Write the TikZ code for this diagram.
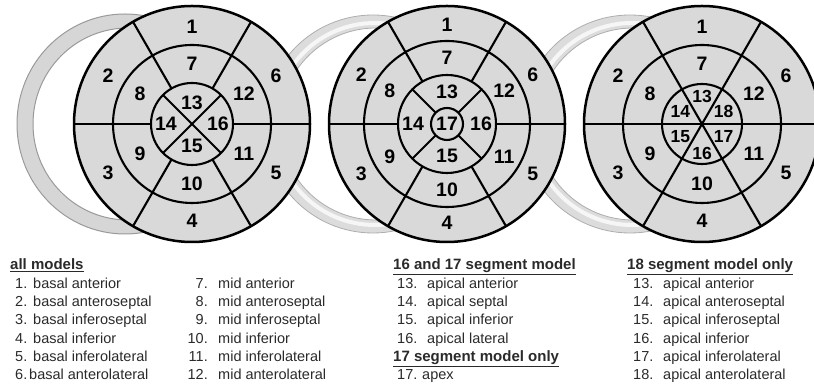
\documentclass[tikz,border=0pt]{standalone}
\usepackage{fontspec}
\setmainfont{Liberation Sans}
\usetikzlibrary{calc}
\definecolor{segfill}{HTML}{D9D9D9}
\definecolor{ringfill}{HTML}{D6D6D6}
\definecolor{ringfillb}{HTML}{DCDCDC}
\definecolor{ringedge}{HTML}{9A9A9A}
\definecolor{txt}{HTML}{2A2A2A}
\begin{document}
\begin{tikzpicture}[x=1pt,y=1pt,
  segline/.style={line width=2.1pt, draw=black},
  outerc/.style={fill=segfill, draw=black, line width=2.5pt},
  ring/.style={fill=ringfill, draw=ringedge, line width=1pt, even odd rule},
  ringb/.style={fill=ringfillb, draw=ringedge!80, line width=0.8pt, even odd rule},
  ringhl/.style={draw=white, line width=4pt, opacity=0.75},
  num/.style={font=\fontsize{19.5}{19.5}\bfseries\selectfont, inner sep=0pt},
  snum/.style={font=\fontsize{17.5}{17.5}\bfseries\selectfont, inner sep=0pt},
  lbl/.style={font=\fontsize{14.5}{15}\selectfont, text=txt, inner sep=0pt, anchor=base west},
  lble/.style={lbl, anchor=base east},
  hd/.style={font=\fontsize{15}{15}\bfseries\selectfont, text=txt, inner sep=0pt, anchor=base west},
]
\useasboundingbox (0,0) rectangle (814,387);
% rings behind the circles
\path[ring] (125,263) ellipse [x radius=108, y radius=110] (128,263) ellipse [x radius=95, y radius=96];
\path[ringb] (373,263) circle[radius=109] (376,263) circle[radius=96];
\draw[ringhl] (375,263) circle[radius=101];
\path[ringb] (630,263) circle[radius=109] (633,263) circle[radius=96];
\draw[ringhl] (632,263) circle[radius=101];
% ---------- circle 1 ----------
\coordinate (c1) at (192,263);
\path[outerc] (c1) circle[radius=118];
\draw[segline] (c1) circle[radius=79] (c1) circle[radius=41];
\foreach \a in {0,60,...,300} \draw[segline] ($(c1)+(\a:41)$) -- ($(c1)+(\a:118)$);
\draw[segline] ($(c1)+(45:41)$) -- ($(c1)+(225:41)$) ($(c1)+(135:41)$) -- ($(c1)+(315:41)$);
\foreach \n/\a in {1/90,2/150,3/210,4/270,5/330,6/30} \node[num] (p1-\n) at ($(c1)+(\a:97)$) {\n};
\foreach \n/\a in {7/90,8/150,9/210,10/270,11/330,12/30} \node[num] (p1-\n) at ($(c1)+(\a:60)$) {\n};
\foreach \n/\a/\r in {13/90/21,14/180/26,15/270/22,16/0/26} \node[num] (p1-\n) at ($(c1)+(\a:\r)$) {\n};
% ---------- circle 2 ----------
\coordinate (c2) at (447,263);
\path[outerc] (c2) circle[radius=118];
\draw[segline] (c2) circle[radius=83] (c2) circle[radius=49] (c2) circle[radius=16];
\foreach \a in {0,60,...,300} \draw[segline] ($(c2)+(\a:49)$) -- ($(c2)+(\a:118)$);
\foreach \a in {45,135,225,315} \draw[segline] ($(c2)+(\a:16)$) -- ($(c2)+(\a:49)$);
\foreach \n/\a in {1/90,2/150,3/210,4/270,5/330,6/30} \node[num] (p2-\n) at ($(c2)+(\a:99)$) {\n};
\foreach \n/\a in {7/90,8/150,9/210,10/270,11/330,12/30} \node[num] (p2-\n) at ($(c2)+(\a:66)$) {\n};
\foreach \n/\a/\r in {13/90/32,14/180/34,15/270/32,16/0/34} \node[num] (p2-\n) at ($(c2)+(\a:\r)$) {\n};
\node[num] (p2-17) at (c2) {17};
% ---------- circle 3 ----------
\coordinate (c3) at (702,263);
\path[outerc] (c3) circle[radius=118];
\draw[segline] (c3) circle[radius=79] (c3) circle[radius=40];
\foreach \a in {0,60,120} \draw[segline] ($(c3)+(\a:118)$) -- ($(c3)+(\a+180:118)$);
\foreach \n/\a in {1/90,2/150,3/210,4/270,5/330,6/30} \node[num] (p3-\n) at ($(c3)+(\a:97)$) {\n};
\foreach \n/\a in {7/90,8/150,9/210,10/270,11/330,12/30} \node[num] (p3-\n) at ($(c3)+(\a:60)$) {\n};
\foreach \n/\a/\r in {13/90/28,14/150/25,15/210/25,16/270/29,17/330/25,18/30/25} \node[snum] (p3-\n) at ($(c3)+(\a:\r)$) {\n};
% ---------- legend ----------
\node[hd] (h1) at (10,117) {\underline{all models}};
\foreach \n/\t/\y in {1/basal anterior/98.7,2/basal anteroseptal/80.3,3/basal inferoseptal/62,4/basal inferior/43.7,5/basal inferolateral/25.3}{
  \node[lbl] (n\n) at (15,\y) {\n.};
  \node[lbl] (t\n) at (33,\y) {\t};
}
\node[lbl] (n6) at (15,7) {6.};
\node[lbl] (t6) at (29,7) {basal anterolateral};
\foreach \n/\t/\y in {7/mid anterior/98.7,8/mid anteroseptal/80.3,9/mid inferoseptal/62,10/mid inferior/43.7,11/mid inferolateral/25.3,12/mid anterolateral/7}{
  \node[lble] (n\n) at (208,\y) {\n.};
  \node[lbl] (t\n) at (218,\y) {\t};
}
\node[hd] (h3) at (393,117) {\underline{16 and 17 segment model}};
\foreach \n/\t/\y in {13/apical anterior/98.7,14/apical septal/80.3,15/apical inferior/62,16/apical lateral/43.7}{
  \node[lbl] (m\n) at (397,\y) {\n.};
  \node[lbl] (s\n) at (427,\y) {\t};
}
\node[hd] (h4) at (393,25.3) {\underline{17 segment model only}};
\node[lbl] (m17) at (397,7) {17.};
\node[lbl] (s17) at (422,7) {apex};
\node[hd] (h5) at (627,117) {\underline{18 segment model only}};
\foreach \n/\t/\y in {13/apical anterior/98.7,14/apical anteroseptal/80.3,15/apical inferoseptal/62,16/apical inferior/43.7,17/apical inferolateral/25.3,18/apical anterolateral/7}{
  \node[lbl] (k\n) at (633,\y) {\n.};
  \node[lbl] (u\n) at (663,\y) {\t};
}
\end{tikzpicture}
\end{document}
